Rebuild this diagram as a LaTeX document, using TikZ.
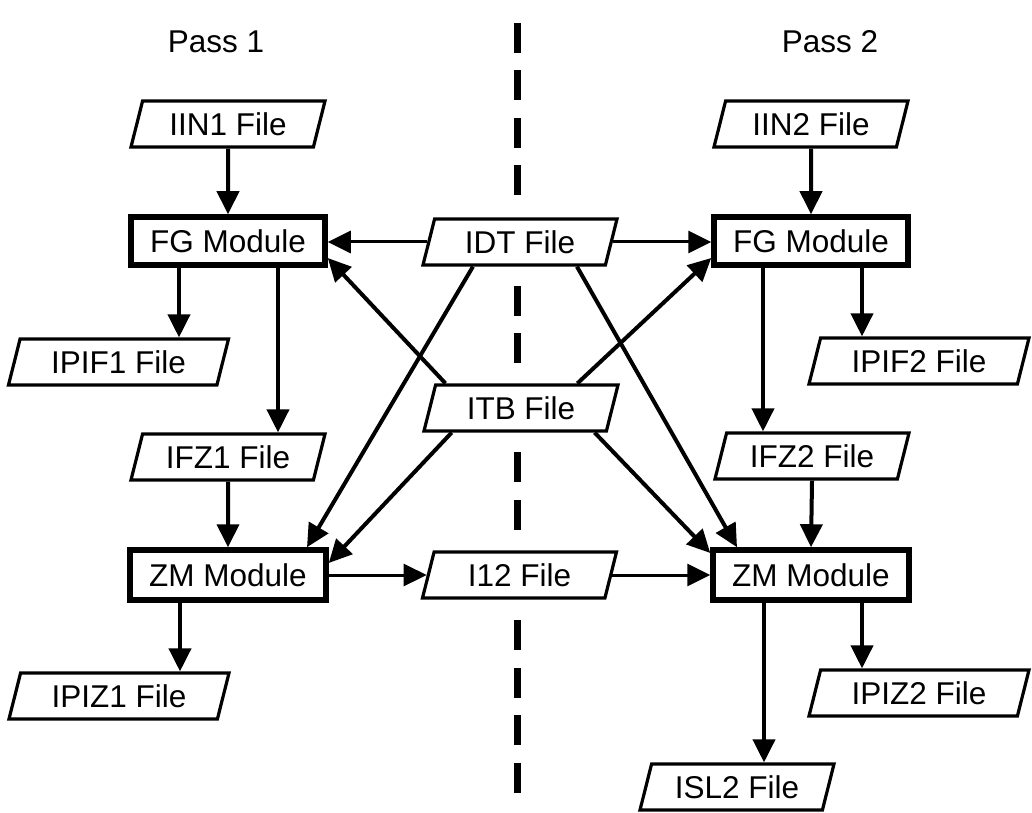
\documentclass[tikz,border=0pt]{standalone}
\usepackage{fontspec}
\setmainfont{Liberation Sans}
\usetikzlibrary{shapes.geometric,arrows.meta,calc}
\begin{document}
\begin{tikzpicture}[x=1pt,y=1pt,
  font=\fontsize{31.5}{36}\selectfont,
  filebox/.style={trapezium, trapezium left angle=63.4, trapezium right angle=116.6,
    trapezium stretches body=true, draw, line width=3.2pt, fill=white,
    minimum height=46pt, minimum width=194pt, inner sep=0pt},
  widefile/.style={filebox, minimum width=220pt},
  modbox/.style={rectangle, draw, line width=5.5pt, fill=white,
    minimum height=48pt, minimum width=194pt, inner sep=0pt},
  arr/.style={line width=4pt, -{Triangle[length=23pt,width=22pt]}},
  tarr/.style={line width=3pt, -{Triangle[length=23pt,width=22pt]}},
  divider/.style={line width=7pt, dash pattern=on 30pt off 17.5pt}]
\useasboundingbox (0,0) rectangle (1032,812);

% divider
\draw[divider] (517,789) -- (517,615);
\draw[divider] (517,526) -- (517,449);
\draw[divider] (517,360) -- (517,282);
\draw[divider] (517,192) -- (517,19);

% headings
\node (pass1) at (216,770) {Pass 1};
\node (pass2) at (830,770) {Pass 2};

% pass 1
\node[filebox] (IIN1) at (228,688) {IIN1 File};
\node[modbox] (FG1) at (228,571) {FG Module};
\node[widefile] (IPIF1) at (118.5,450) {IPIF1 File};
\node[filebox] (IFZ1) at (228,355) {IFZ1 File};
\node[modbox, minimum width=196pt, minimum height=50pt] (ZM1) at (228,237) {ZM Module};
\node[widefile] (IPIZ1) at (119,116) {IPIZ1 File};

% middle
\node[filebox] (IDT) at (520,570) {IDT File};
\node[filebox] (ITB) at (521,404) {ITB File};
\node[filebox] (I12) at (519.5,237) {I12 File};

% pass 2
\node[filebox] (IIN2) at (811,688) {IIN2 File};
\node[modbox] (FG2) at (811,571) {FG Module};
\node[widefile] (IPIF2) at (919,451) {IPIF2 File};
\node[filebox] (IFZ2) at (812,356) {IFZ2 File};
\node[modbox, minimum width=196pt, minimum height=50pt] (ZM2) at (811,237) {ZM Module};
\node[widefile] (IPIZ2) at (919,119) {IPIZ2 File};
\node[filebox] (ISL2) at (737,25) {ISL2 File};

% vertical flows pass 1
\draw[arr] (IIN1.south) -- (FG1.north);
\draw[arr] ([xshift=-49pt]FG1.south) -- ([xshift=-49pt]FG1.south |- IPIF1.north);
\draw[arr] ([xshift=50pt]FG1.south) -- ([xshift=50pt]FG1.south |- IFZ1.north);
\draw[arr] (IFZ1.south) -- (ZM1.north);
\draw[arr] ([xshift=-48pt]ZM1.south) -- ([xshift=-48pt]ZM1.south |- IPIZ1.north);

% vertical flows pass 2
\draw[arr] (IIN2.south) -- (FG2.north);
\draw[arr] ([xshift=51pt]FG2.south) -- ([xshift=51pt]FG2.south |- IPIF2.north);
\draw[arr] ([xshift=-48pt]FG2.south) -- ([xshift=-48pt]FG2.south |- IFZ2.north);
\draw[arr] (IFZ2.south) -- (ZM2.north);
\draw[arr] ([xshift=51pt]ZM2.south) -- ([xshift=51pt]ZM2.south |- IPIZ2.north);
\draw[arr] ([xshift=-47pt]ZM2.south) -- ([xshift=-47pt]ZM2.south |- ISL2.north);

% horizontal flows
\draw[tarr] (IDT.left side) -- (FG1.east |- IDT.left side);
\draw[tarr] (IDT.right side) -- (FG2.west |- IDT.right side);
\draw[tarr] (ZM1.east) -- (I12.left side);
\draw[tarr] (I12.right side) -- (ZM2.west);

% diagonals
\draw[arr] ($(IDT.bottom left corner)!0.28!(IDT.bottom right corner)$) -- ([xshift=79pt]ZM1.north);
\draw[arr] ($(IDT.bottom left corner)!0.84!(IDT.bottom right corner)$) -- ([xshift=-74pt]ZM2.north);
\draw[arr] ($(ITB.top left corner)!0.06!(ITB.top right corner)$) -- ([yshift=-17pt]FG1.east);
\draw[arr] ($(ITB.top left corner)!0.77!(ITB.top right corner)$) -- ([yshift=-17pt]FG2.west);
\draw[arr] ($(ITB.bottom left corner)!0.16!(ITB.bottom right corner)$) -- ([yshift=12pt]ZM1.east);
\draw[arr] ($(ITB.bottom left corner)!0.93!(ITB.bottom right corner)$) -- ([yshift=22pt]ZM2.west);
\end{tikzpicture}
\end{document}
